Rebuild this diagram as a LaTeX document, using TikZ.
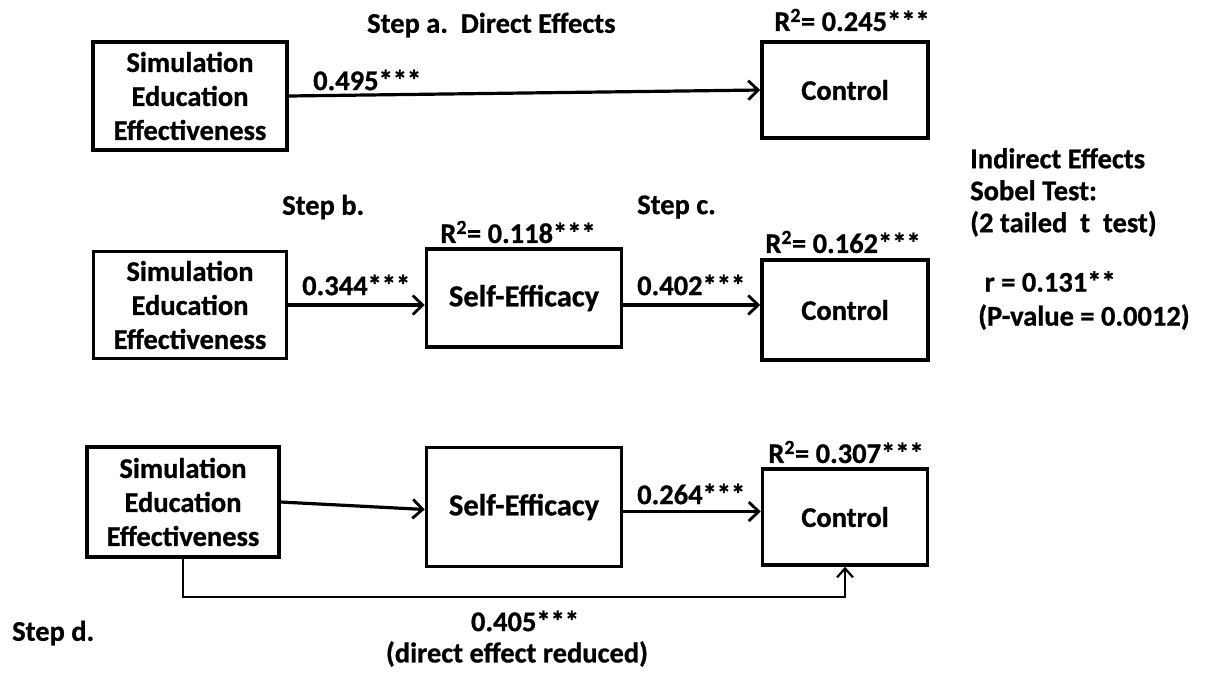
\documentclass[tikz,border=0pt]{standalone}
\usepackage{fontspec}
\setmainfont{Carlito}[BoldFeatures={FakeBold=0.8}]
\usetikzlibrary{arrows.meta}

\tikzset{
  txt/.style={font=\fontsize{28.5}{34}\selectfont\bfseries, inner sep=0pt},
  box/.style={txt, draw, line width=3.5pt, align=center},
  lbl/.style={txt, anchor=west},
  rsq/.style={txt},
  big/.style={font=\fontsize{30.5}{34}\selectfont\bfseries},
  arr/.style={line width=3.2pt, -{Straight Barb[length=10pt,width=19pt,line width=2.8pt]}},
  thinarr/.style={line width=2pt, -{Straight Barb[length=9pt,width=16pt,line width=2.2pt]}},
}

\begin{document}
\begin{tikzpicture}[x=1pt,y=-1pt]
\useasboundingbox[fill=white] (0,0) rectangle (1212,673);

% ---- Step a: direct effect ----
\node[lbl] (stepa) at (367,25) {Step a.\ \ Direct Effects};
\node[box, minimum width=194pt, minimum height=108pt] (see1) at (190,96) {Simulation\\Education\\Effectiveness};
\node[box, minimum width=166pt, minimum height=96pt] (ctrl1) at (845,90) {Control};
\node[rsq] (r1) at (852,20) {R\textsuperscript{2}= 0.245***};
\draw[arr] (see1.east) -- (ctrl1.west);
\node[lbl] (c1) at (313,80) {0.495***};

% ---- Steps b and c: mediator ----
\node[lbl] (stepb) at (282,207) {Step b.};
\node[lbl] (stepc) at (637,207) {Step c.};
\node[box, minimum width=193pt, minimum height=107pt] (see2) at (190,305) {Simulation\\Education\\Effectiveness};
\node[box, big, minimum width=195pt, minimum height=98pt] (se2) at (524,298) {Self-Efficacy};
\node[box, minimum width=166pt, minimum height=100pt] (ctrl2) at (845,310) {Control};
\node[rsq] (r2) at (518,232) {R\textsuperscript{2}= 0.118***};
\node[rsq] (r3) at (843,242) {R\textsuperscript{2}= 0.162***};
\coordinate (b1) at (see2.east);
\draw[arr] (b1) -- (b1 -| se2.west);
\draw[arr] (b1 -| se2.east) -- (b1 -| ctrl2.west);
\node[lbl] (c2) at (302,285) {0.344***};
\node[lbl] (c3) at (637,285) {0.402***};

% ---- Sobel test ----
\node[lbl, align=left, anchor=north west, font=\fontsize{28.5}{32}\selectfont\bfseries] (sobel) at (970,148)
  {Indirect Effects\\Sobel Test:\\(2 tailed\ \ t\ \ test)};
\node[lbl, align=left, anchor=north west, font=\fontsize{28.5}{34}\selectfont\bfseries] (rval) at (978,271)
  {\ r = 0.131**\\(P-value = 0.0012)};

% ---- Step d: full model ----
\node[box, minimum width=192pt, minimum height=110pt] (see3) at (183,502) {Simulation\\Education\\Effectiveness};
\node[box, big, minimum width=195pt, minimum height=119pt] (se3) at (524,507) {Self-Efficacy};
\node[box, minimum width=165pt, minimum height=96pt] (ctrl3) at (845,517) {Control};
\node[rsq] (r4) at (846,452) {R\textsuperscript{2}= 0.307***};
\draw[arr] (see3.east) -- ([yshift=-2.5pt]se3.west);
\coordinate (d1) at ([yshift=-4.5pt]se3.east);
\draw[arr] (d1) -- (d1 -| ctrl3.west);
\node[lbl] (c4) at (637,494) {0.264***};
\coordinate (low) at (0,597);
\draw[thinarr] (see3.south) -- (see3.south |- low) -- (ctrl3.south |- low) -- (ctrl3.south);
\node[txt] (c5) at (525,621) {0.405***};
\node[txt] (c5b) at (517,654) {(direct effect reduced)};
\node[lbl] (stepd) at (12,633) {Step d.};
\end{tikzpicture}
\end{document}
